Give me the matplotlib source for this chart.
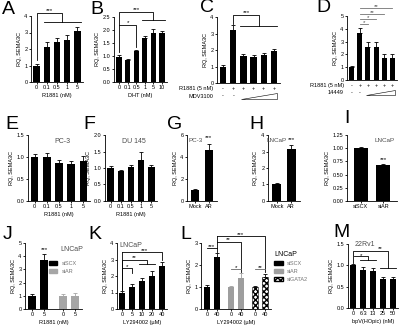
import numpy as np
import matplotlib
matplotlib.use("Agg")
import matplotlib.pyplot as plt
from matplotlib.patches import Patch
import matplotlib.transforms as mtransforms

plt.rcParams['font.family'] = ['Liberation Sans', 'DejaVu Sans']

# ---- data ----
a_labels = ['0', '0.1', '0.5', '1', '5']
a_vals = [1.0, 2.15, 2.45, 2.57, 3.1]
a_err = [0.1, 0.25, 0.2, 0.28, 0.25]

b_labels = ['0', '0.1', '0.5', '1', '5', '10']
b_vals = [0.97, 0.85, 1.18, 1.68, 1.9, 1.88]
b_err = [0.05, 0.04, 0.06, 0.08, 0.12, 0.09]

c_vals = [1.0, 3.2, 1.65, 1.58, 1.72, 1.92]
c_err = [0.07, 0.3, 0.12, 0.1, 0.12, 0.12]
c_r1881 = ['-', '+', '+', '+', '+', '+']
c_drug = ['-', '-']

d_vals = [1.0, 3.7, 2.55, 2.58, 1.7, 1.7]
d_err = [0.12, 0.35, 0.4, 0.4, 0.35, 0.3]

e_labels = ['0', '0.1', '0.5', '1', '5']
e_vals = [1.0, 0.99, 0.87, 0.83, 0.9]
e_err = [0.07, 0.09, 0.06, 0.07, 0.13]

f_labels = ['0', '0.1', '0.5', '1', '5']
f_vals = [1.0, 0.9, 1.03, 1.25, 1.02]
f_err = [0.05, 0.04, 0.06, 0.25, 0.06]

g_labels = ['Mock', 'AR']
g_vals = [1.0, 4.65]
g_err = [0.07, 0.5]

h_labels = ['Mock', 'AR']
h_vals = [1.0, 3.15]
h_err = [0.07, 0.25]

i_labels = ['siSCX', 'siAR']
i_vals = [1.0, 0.68]
i_err = [0.015, 0.03]

j_labels = ['0', '5', '0', '5']
j_scx = [1.0, 3.7]
j_scx_err = [0.12, 0.45]
j_ar = [0.97, 0.95]
j_ar_err = [0.2, 0.3]

k_labels = ['0', '5', '10', '20', '40']
k_vals = [1.0, 1.33, 1.7, 1.98, 2.6]
k_err = [0.08, 0.2, 0.15, 0.35, 0.25]

l_labels = ['0', '40', '0', '40', '0', '40']
l_scx = [1.0, 2.35]
l_scx_err = [0.08, 0.2]
l_ar = [1.0, 1.42]
l_ar_err = [0.03, 0.2]
l_gata = [0.98, 1.45]
l_gata_err = [0.07, 0.12]

m_labels = ['0', '6.3', '13', '25', '50']
m_vals = [1.0, 0.9, 0.86, 0.68, 0.68]
m_err = [0.04, 0.07, 0.07, 0.05, 0.04]

W, H = 400, 329
fig = plt.figure(figsize=(4, 3.29), dpi=100)

TICK = 4
LW = 0.6


def make_ax(x0, x1, ytop, ybot):
    ax = fig.add_axes([x0 / W, 1 - ybot / H, (x1 - x0) / W, (ybot - ytop) / H])
    for s in ['top', 'right']:
        ax.spines[s].set_visible(False)
    for s in ['left', 'bottom']:
        ax.spines[s].set_linewidth(LW)
    ax.tick_params(labelsize=TICK, width=LW, length=1.5, pad=1)
    ax.set_ylabel('RQ, SEMA3C', fontsize=TICK, labelpad=2)
    return ax


def bars(ax, x, vals, errs, color='black', hatch=None):
    if hatch:
        ax.bar(x, vals, width=0.62, color='white', edgecolor='black',
               hatch=hatch, linewidth=0.4)
    else:
        ax.bar(x, vals, width=0.62, color=color)
    ax.errorbar(x, vals, yerr=[np.zeros(len(vals)), errs], fmt='none',
                ecolor=color if not hatch else 'black', elinewidth=LW,
                capsize=1.5, capthick=LW)


def seg(ax, xs, ys, color='black'):
    ax.plot(xs, ys, color=color, lw=LW, clip_on=False)


def star(ax, x, y, s, color='black'):
    return ax.text(x, y, s, ha='center', va='bottom', fontsize=4.5, color=color,
                   clip_on=False)


def group_bracket(ax, i, low_i, top, j0, j1, low_g, s):
    # line from bar i up to 'top', across to the middle of group j0..j1,
    # down to a horizontal line spanning the group
    mid = (j0 + j1) / 2
    seg(ax, [i, i, mid, mid], [low_i, top, top, low_g])
    seg(ax, [j0 - 0.3, j1 + 0.3], [low_g, low_g])
    return star(ax, (i + mid) / 2, top, s)


def panel_label(x, y, s):
    fig.text(x / W, 1 - y / H, s, fontsize=14, va='top', ha='left')


# ---- A ----
ax = make_ax(31, 83, 16, 82)
x = np.arange(len(a_vals))
bars(ax, x, a_vals, a_err)
ax.set_ylim(0, 4)
ax.set_yticks(range(5))
ax.set_xticks(x)
ax.set_xticklabels(a_labels)
ax.set_xlabel('R1881 (nM)', fontsize=TICK, labelpad=1.5)
group_bracket(ax, 0, 1.35, 4.2, 1, 4, 3.65, '***')
panel_label(2, 1, 'A')

# ---- B ----
ax = make_ax(114, 167, 17, 82)
x = np.arange(len(b_vals))
bars(ax, x, b_vals, b_err)
ax.set_ylim(0, 2.5)
ax.set_yticks(np.arange(0, 2.51, 0.5))
ax.set_yticklabels(['0.0', '0.5', '1.0', '1.5', '2.0', '2.5'])
ax.set_xticks(x)
ax.set_xticklabels(b_labels)
ax.set_xlabel('DHT (nM)', fontsize=TICK, labelpad=1.5)
group_bracket(ax, 0, 1.15, 2.7, 3, 5, 2.38, '***')
seg(ax, [0, 2, 2], [2.2, 2.2, 1.35])
star(ax, 1, 2.2, '*')
panel_label(90, 1, 'B')

# ---- C ----
ax = make_ax(217, 280, 17, 83)
x = np.arange(len(c_vals))
bars(ax, x, c_vals, c_err)
ax.set_ylim(0, 4)
ax.set_yticks(range(5))
ax.set_xlim(-0.6, 5.6)
ax.set_xticks([])
trans = mtransforms.blended_transform_factory(ax.transData, ax.transAxes)
for xi, s in zip(x, c_r1881):
    ax.text(xi, -0.09, s, transform=trans, ha='center', va='center', fontsize=TICK)
for xi, s in zip(x[:2], c_drug):
    ax.text(xi, -0.2, s, transform=trans, ha='center', va='center', fontsize=TICK)
ax.fill([1.75, 5.3, 5.3], [-0.24, -0.24, -0.15], transform=trans,
        facecolor='white', edgecolor='black', lw=0.4, clip_on=False)
ax.text(-1.0, -0.09, 'R1881 (5 nM)', transform=trans, ha='right', va='center', fontsize=TICK)
ax.text(-1.0, -0.2, 'MDV3100', transform=trans, ha='right', va='center', fontsize=TICK)
group_bracket(ax, 1, 3.6, 4.1, 2, 5, 3.43, '***')
panel_label(200, -1, 'C')

# ---- D ----
ax = make_ax(347, 397, 16, 80)
x = np.arange(len(d_vals))
bars(ax, x, d_vals, d_err)
ax.set_ylim(0, 5)
ax.set_yticks(range(6))
ax.set_xlim(-0.6, 5.6)
ax.set_xticks([])
trans = mtransforms.blended_transform_factory(ax.transData, ax.transAxes)
for xi, s in zip(x, c_r1881):
    ax.text(xi, -0.09, s, transform=trans, ha='center', va='center', fontsize=TICK)
for xi, s in zip(x[:2], c_drug):
    ax.text(xi, -0.2, s, transform=trans, ha='center', va='center', fontsize=TICK)
ax.fill([1.75, 5.3, 5.3], [-0.24, -0.24, -0.15], transform=trans,
        facecolor='white', edgecolor='black', lw=0.4, clip_on=False)
ax.text(-1.0, -0.09, 'R1881 (5 nM)', transform=trans, ha='right', va='center', fontsize=TICK)
ax.text(-1.0, -0.2, '14449', transform=trans, ha='right', va='center', fontsize=TICK)
for j, (lev, s) in enumerate(zip([4.38, 4.77, 5.13, 5.6], ['*', '*', '**', '**'])):
    seg(ax, [1, j + 2], [lev, lev], color='0.45')
    star(ax, (1 + j + 2) / 2, lev - 0.07, s, color='0.3')
panel_label(316, -1, 'D')

# ---- E ----
ax = make_ax(28, 90, 135, 201)
x = np.arange(len(e_vals))
bars(ax, x, e_vals, e_err)
ax.set_ylim(0, 1.5)
ax.set_yticks([0, 0.5, 1.0, 1.5])
ax.set_yticklabels(['0.0', '0.5', '1.0', '1.5'])
ax.set_xticks(x)
ax.set_xticklabels(e_labels)
ax.set_xlabel('R1881 (nM)', fontsize=TICK, labelpad=1.5)
ax.text(0.55, 0.95, 'PC-3', transform=ax.transAxes, ha='center', va='top', fontsize=5, color='0.3')
panel_label(5, 116, 'E')

# ---- F ----
ax = make_ax(105, 157, 135, 201)
x = np.arange(len(f_vals))
bars(ax, x, f_vals, f_err)
ax.set_ylim(0, 2.0)
ax.set_yticks([0, 0.5, 1.0, 1.5, 2.0])
ax.set_yticklabels(['0.0', '0.5', '1.0', '1.5', '2.0'])
ax.set_xticks(x)
ax.set_xticklabels(f_labels)
ax.set_xlabel('R1881 (nM)', fontsize=TICK, labelpad=1.5)
ax.text(0.55, 0.95, 'DU 145', transform=ax.transAxes, ha='center', va='top', fontsize=5, color='0.3')
panel_label(83, 116, 'F')


def two_bar(x0, x1, vals, errs, labels, ylim, yticks, yticklabels, title, tx, stars_y):
    ax = make_ax(x0, x1, 135, 201)
    x = np.arange(2)
    bars(ax, x, vals, errs)
    ax.set_xlim(-0.6, 1.6)
    ax.set_ylim(*ylim)
    ax.set_yticks(yticks)
    if yticklabels:
        ax.set_yticklabels(yticklabels)
    ax.set_xticks(x)
    ax.set_xticklabels(labels)
    ax.text(tx, 0.95, title, transform=ax.transAxes, ha='center', va='top',
            fontsize=4.5, color='0.3')
    star(ax, 1, stars_y, '***')
    return ax


two_bar(187, 217, g_vals, g_err, g_labels, (0, 6), [0, 2, 4, 6], None, 'PC-3', 0.3, 5.55)
panel_label(167, 116, 'G')
two_bar(268, 300, h_vals, h_err, h_labels, (0, 4), range(5), None, 'LNCaP', 0.28, 3.6)
panel_label(249, 116, 'H')
two_bar(347, 397, i_vals, i_err, i_labels, (0, 1.25), np.arange(0, 1.26, 0.25),
        ['0.00', '0.25', '0.50', '0.75', '1.00', '1.25'], 'LNCaP', 0.75, 0.74)
panel_label(344, 110, 'I')

# ---- J ----
ax = make_ax(25, 82, 243, 309)
xs = np.array([0, 1])
xa = np.array([2.6, 3.6])
bars(ax, xs, j_scx, j_scx_err)
bars(ax, xa, j_ar, j_ar_err, color='0.65')
ax.set_ylim(0, 5)
ax.set_yticks(range(6))
ax.set_xlim(-0.6, 4.2)
ax.set_xticks(np.concatenate([xs, xa]))
ax.set_xticklabels(j_labels)
ax.set_xlabel('R1881 (nM)', fontsize=TICK, labelpad=1.5)
star(ax, 1, 4.3, '***')
ax.text(0.82, 0.95, 'LNCaP', transform=ax.transAxes, ha='center', va='top', fontsize=5, color='0.3')
ax.legend(handles=[Patch(color='black', label='siSCX'), Patch(color='0.65', label='siAR')],
          loc='upper right', bbox_to_anchor=(1.0, 0.8), fontsize=4, frameon=False,
          handlelength=1.6, handleheight=0.7, labelcolor='0.45')
panel_label(3, 226, 'J')

# ---- K ----
ax = make_ax(117, 167, 243, 309)
x = np.arange(len(k_vals))
bars(ax, x, k_vals, k_err)
ax.set_ylim(0, 4)
ax.set_yticks(range(5))
ax.set_xticks(x)
ax.set_xticklabels(k_labels)
ax.set_xlabel('LY294002 (\u00b5M)', fontsize=TICK, labelpad=1.5)
ax.text(0.05, 1.02, 'LNCaP', transform=ax.transAxes, ha='left', va='top', fontsize=5, color='0.3')
seg(ax, [0, 0], [1.15, 3.45])
seg(ax, [0, 4, 4], [3.45, 3.45, 2.95])
star(ax, 2.3, 3.42, '***')
group_bracket(ax, 0, 1.15, 2.97, 2, 3, 2.7, '**')
seg(ax, [0, 1, 1], [2.48, 2.48, 2.2])
star(ax, 0.5, 2.45, '*')
panel_label(88, 226, 'K')

# ---- L ----
ax = make_ax(201, 271, 243, 309)
x1 = np.array([0, 1])
x2 = np.array([2.5, 3.5])
x3 = np.array([5, 6])
bars(ax, x1, l_scx, l_scx_err)
bars(ax, x2, l_ar, l_ar_err, color='0.62')
bars(ax, x3, l_gata, l_gata_err, hatch='xxxxxx')
ax.set_ylim(0, 3)
ax.set_yticks(range(4))
ax.set_xlim(-0.6, 6.6)
ax.set_xticks(np.concatenate([x1, x2, x3]))
ax.set_xticklabels(l_labels)
ax.set_xlabel('LY294002 (\u00b5M)', fontsize=TICK, labelpad=1.5)
seg(ax, [0, 1], [2.78, 2.78])
star(ax, 0.5, 2.74, '***')
seg(ax, [1, 1], [2.6, 3.3])
seg(ax, [1, 6, 6], [3.3, 3.3, 1.7])
star(ax, 3.5, 3.27, '***')
seg(ax, [1, 3.5, 3.5], [3.06, 3.06, 1.7])
star(ax, 2.25, 3.03, '**')
seg(ax, [2.5, 3.5], [1.82, 1.82], color='0.4')
star(ax, 3.0, 1.78, '*')
seg(ax, [5, 6], [1.8, 1.8], color='0.4')
star(ax, 5.5, 1.76, '**')
leg = ax.legend(handles=[Patch(color='black', label='siSCX'), Patch(color='0.62', label='siAR'),
                         Patch(facecolor='white', edgecolor='black', hatch='xxxxxx', label='siGATA2')],
                loc='upper left', bbox_to_anchor=(0.97, 0.95), fontsize=4, frameon=False,
                title='LNCaP', title_fontsize=5, handlelength=1.6, handleheight=0.7,
                labelcolor='0.45')
leg._legend_box.align = 'left'
panel_label(180, 226, 'L')

# ---- M ----
ax = make_ax(348, 398, 244, 308)
x = np.arange(len(m_vals))
bars(ax, x, m_vals, m_err)
ax.set_ylim(0, 1.5)
ax.set_yticks([0, 0.5, 1.0, 1.5])
ax.set_yticklabels(['0.0', '0.5', '1.0', '1.5'])
ax.set_xticks(x)
ax.set_xticklabels(m_labels)
ax.set_xlabel('bpV(HOpic) (nM)', fontsize=TICK, labelpad=1.5)
ax.text(0.14, 1.04, '22Rv1', transform=ax.transAxes, ha='left', va='top', fontsize=5, color='0.3')
t = group_bracket(ax, 0, 1.06, 1.33, 3, 4, 0.93, '**')
t.set_position((2.75, 1.33))
seg(ax, [0.1, 1.5, 1.5], [1.22, 1.22, 1.12])
seg(ax, [0.7, 2.3], [1.12, 1.12])
star(ax, 0.8, 1.18, '*')
panel_label(333, 224, 'M')

fig.savefig('out.png', dpi=100)
